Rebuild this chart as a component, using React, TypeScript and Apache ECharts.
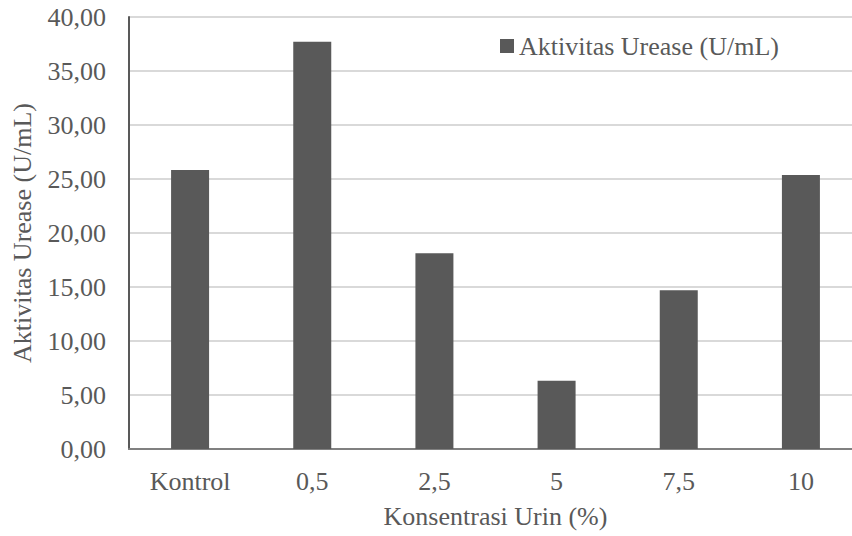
import React, { useEffect, useRef } from "react";
import * as echarts from "echarts";

const categories = ["Kontrol", "0,5", "2,5", "5", "7,5", "10"];
const ureaseActivity = [25.83, 37.7, 18.12, 6.32, 14.69, 25.37];
const seriesName = "Aktivitas Urease (U/mL)";
const xTitle = "Konsentrasi Urin (%)";
const yTitle = "Aktivitas Urease (U/mL)";

const TEXT = "#595959";
const FONT = "Liberation Serif";

export default function App() {
  const ref = useRef<HTMLDivElement>(null);

  useEffect(() => {
    if (!ref.current) return;
    const chart = echarts.init(ref.current, undefined, { renderer: "svg" });
    chart.setOption({
      animation: false,
      backgroundColor: "#ffffff",
      textStyle: { fontFamily: FONT, color: TEXT },
      // the plot area runs slightly past the visible right edge
      grid: { left: 129, top: 17, width: 733, height: 432, containLabel: false },
      legend: {
        data: [seriesName],
        left: 500,
        top: 33,
        padding: 0,
        icon: "rect",
        itemWidth: 14,
        itemHeight: 14,
        itemGap: 6,
        textStyle: { fontFamily: FONT, fontSize: 26, color: TEXT, padding: [0, 0, 0, 0] },
      },
      xAxis: {
        type: "category",
        data: categories,
        name: xTitle,
        nameLocation: "middle",
        nameGap: 54,
        nameTextStyle: { fontFamily: FONT, fontSize: 26, color: TEXT },
        axisLine: { lineStyle: { color: "#808080", width: 2 } },
        axisTick: { show: false },
        axisLabel: { fontFamily: FONT, fontSize: 26, color: TEXT, margin: 19 },
      },
      yAxis: {
        type: "value",
        min: 0,
        max: 40,
        interval: 5,
        name: yTitle,
        nameLocation: "middle",
        nameGap: 107,
        nameRotate: 90,
        nameTextStyle: { fontFamily: FONT, fontSize: 26, color: TEXT, verticalAlign: "middle" },
        axisLine: { show: true, lineStyle: { color: "#595959", width: 2 } },
        axisTick: { show: false },
        splitLine: { lineStyle: { color: "#d9d9d9", width: 2 } },
        axisLabel: {
          fontFamily: FONT,
          fontSize: 26,
          color: TEXT,
          margin: 23,
          formatter: (v: number) => v.toFixed(2).replace(".", ","),
        },
      },
      series: [
        {
          name: seriesName,
          type: "bar",
          data: ureaseActivity,
          barWidth: 38,
          itemStyle: { color: "#595959" },
        },
      ],
    });
    return () => chart.dispose();
  }, []);

  return (
    <div
      style={{
        position: "fixed",
        left: 0,
        top: 0,
        width: 852,
        height: 536,
        overflow: "hidden",
        background: "#ffffff",
      }}
    >
      <div ref={ref} style={{ width: 870, height: 536 }} />
    </div>
  );
}
